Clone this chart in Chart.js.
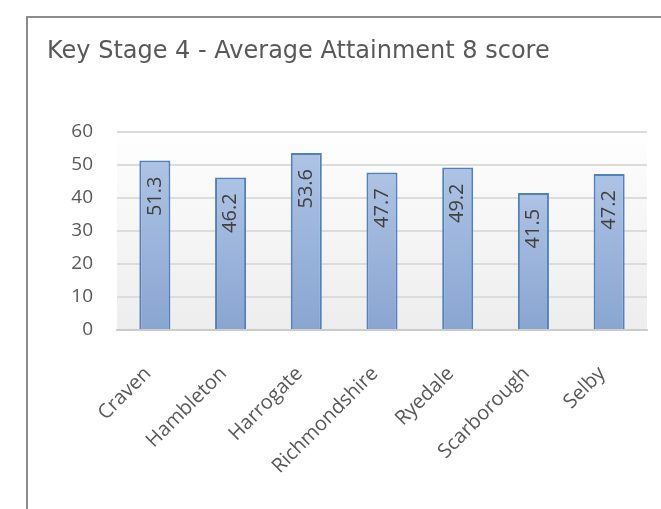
<!DOCTYPE html>
<html>
<head>
<meta charset="utf-8">
<script src="https://cdn.jsdelivr.net/npm/chart.js@4"></script>
<style>
  html, body { margin: 0; padding: 0; background: #fff; }
  #frame {
    position: absolute; left: 26px; top: 16px;
    width: 633px; height: 491px;
    border-top: 2px solid #8c8c8c; border-left: 2px solid #8c8c8c;
  }
  #frame canvas { display: block; }
</style>
</head>
<body>
<div id="frame"><canvas id="attainmentChart" width="633" height="491"></canvas></div>
<script>
// Average Attainment 8 score by district
var districts = ['Craven', 'Hambleton', 'Harrogate', 'Richmondshire', 'Ryedale', 'Scarborough', 'Selby'];
var scores = [51.3, 46.2, 53.6, 47.7, 49.2, 41.5, 47.2];
var yTicks = [0, 10, 20, 30, 40, 50, 60];

var labelFont = '"Open Sans", sans-serif';

// soft white-to-grey fill behind the plot
var plotBackground = {
    id: 'plotBackground',
    beforeDraw: function(chart) {
        var a = chart.chartArea, ctx = chart.ctx;
        var g = ctx.createLinearGradient(0, a.top, 0, a.bottom);
        g.addColorStop(0, '#ffffff');
        g.addColorStop(0.17, '#fbfbfb');
        g.addColorStop(1, '#ededed');
        ctx.save();
        ctx.fillStyle = g;
        ctx.fillRect(a.left, a.top, a.right - a.left, a.bottom - a.top);
        ctx.restore();
    }
};

// value written sideways just under the top of each bar
var barValues = {
    id: 'barValues',
    afterDatasetsDraw: function(chart) {
        var ctx = chart.ctx;
        var meta = chart.getDatasetMeta(0);
        ctx.save();
        ctx.font = '20px ' + labelFont;
        ctx.fillStyle = '#404040';
        ctx.textAlign = 'right';
        ctx.textBaseline = 'middle';
        meta.data.forEach(function(bar, i) {
            ctx.save();
            ctx.translate(bar.x, bar.y + 16);
            ctx.rotate(-Math.PI / 2);
            ctx.fillText(scores[i].toFixed(1), 0, 0);
            ctx.restore();
        });
        ctx.restore();
    }
};

function drawChart() {
    var ctxAttainment = document.getElementById('attainmentChart').getContext('2d');

    return new Chart(ctxAttainment, {
        type: 'bar',
        data: {
            labels: districts,
            datasets: [{
                data: scores,
                backgroundColor: function(c) {
                    var chart = c.chart;
                    if (!chart.chartArea || c.parsed === undefined) return '#9cb3da';
                    var y = chart.scales.y;
                    var g = chart.ctx.createLinearGradient(0, y.getPixelForValue(c.parsed.y), 0, y.getPixelForValue(0));
                    g.addColorStop(0, '#aec3e4');
                    g.addColorStop(1, '#89a5d1');
                    return g;
                },
                borderColor: '#4f81bd',
                borderWidth: 2,
                barPercentage: 0.41,
                categoryPercentage: 1
            }]
        },
        options: {
            responsive: false,
            animation: false,
            layout: {
                padding: { left: 19, right: 14, top: 0, bottom: 0 }
            },
            scales: {
                x: {
                    grid: { display: false },
                    border: { display: true, color: '#cccccc', width: 2 },
                    ticks: {
                        color: '#595959',
                        font: { family: labelFont, size: 20 },
                        minRotation: 45,
                        maxRotation: 45,
                        padding: 24,
                        labelOffset: -7
                    },
                    afterFit: function(scale) { scale.height = 179; }
                },
                y: {
                    min: 0,
                    max: 60,
                    afterBuildTicks: function(scale) {
                        scale.ticks = yTicks.map(function(v) { return { value: v }; });
                    },
                    grid: { color: '#dcdcdc', lineWidth: 2, drawTicks: false },
                    border: { display: false },
                    ticks: {
                        color: '#595959',
                        font: { family: labelFont, size: 19 },
                        padding: 24
                    },
                    afterFit: function(scale) { scale.width = 70; }
                }
            },
            plugins: {
                legend: { display: false },
                tooltip: { enabled: false },
                title: {
                    display: true,
                    text: 'Key Stage 4 - Average Attainment 8 score',
                    align: 'start',
                    color: '#595959',
                    font: { family: '"DejaVu Sans", sans-serif', size: 24, weight: 'normal' },
                    padding: { top: 19, bottom: 66 }
                }
            }
        },
        plugins: [plotBackground, barValues]
    });
}

// make sure the label font is ready before the canvas paints text
Promise.all([
    document.fonts.load('20px "Open Sans"'),
    document.fonts.load('24px "DejaVu Sans"')
]).then(drawChart, drawChart);
</script>
</body>
</html>
